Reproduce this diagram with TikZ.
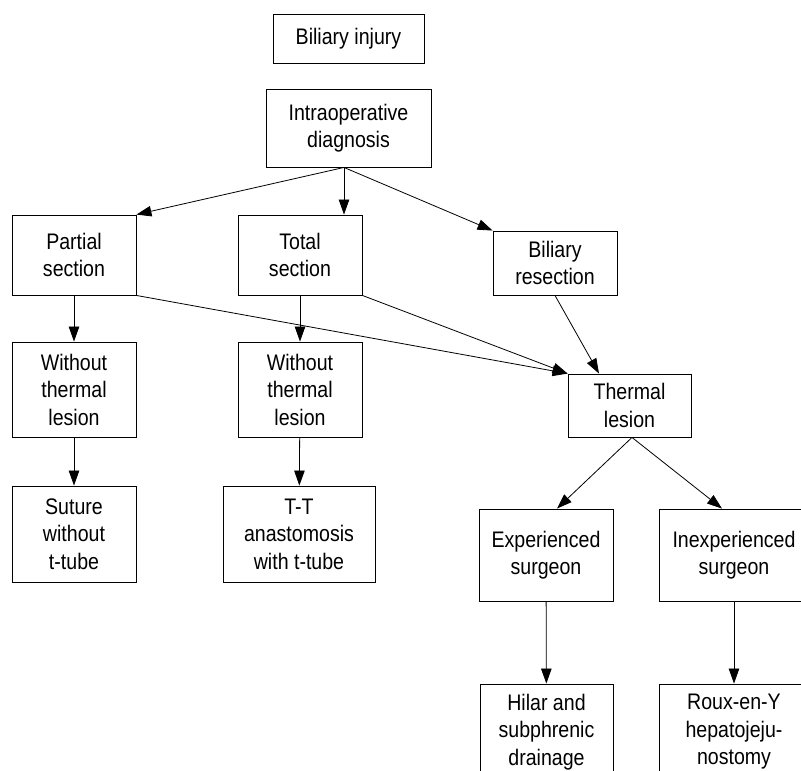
\documentclass[tikz,border=0pt]{standalone}
\usepackage{fontspec}
\setmainfont{Liberation Sans}[FakeStretch=0.87]
\usetikzlibrary{arrows.meta}

\begin{document}
\begin{tikzpicture}[x=1pt, y=-1pt,
		box/.style={draw, line width=0.9pt, align=center, inner sep=0pt,
			font=\fontsize{22.5}{27.5}\selectfont},
		link/.style={-{Triangle[length=15pt,width=10.5pt]}, line width=0.8pt}]
		\useasboundingbox (0,0) rectangle (801,771);
		\clip (0,0) rectangle (801,771);
		% Top
		\node[box, minimum width=151pt, minimum height=49pt] (Injury) at (348.5,38.5) {Biliary injury} ;
		\node[box, minimum width=165pt, minimum height=78pt] (Diag) at (348.5,128) {Intraoperative\\diagnosis} ;
		% Kind of injury
		\node[box, minimum width=124pt, minimum height=80pt] (Partial) at (74,255) {Partial\\section} ;
		\node[box, minimum width=124pt, minimum height=80pt] (Total) at (300,255) {Total\\section} ;
		\node[box, minimum width=124pt, minimum height=64pt] (Resect) at (555,263) {Biliary\\resection} ;
		% Lesion
		\node[box, minimum width=124pt, minimum height=95pt] (NoThermA) at (74,389.5) {Without\\thermal\\lesion} ;
		\node[box, minimum width=124pt, minimum height=95pt] (NoThermB) at (300,389.5) {Without\\thermal\\lesion} ;
		\node[box, minimum width=123pt, minimum height=63pt] (Thermal) at (629.5,405.5) {Thermal\\lesion} ;
		% Repair
		\node[box, minimum width=124pt, minimum height=96pt] (Suture) at (74,534) {Suture\\without\\t-tube} ;
		\node[box, minimum width=152pt, minimum height=96pt] (Anast) at (299,534) {T-T\\anastomosis\\with t-tube} ;
		\node[box, minimum width=134pt, minimum height=92pt] (Expert) at (546,555) {Experienced\\surgeon} ;
		\node[box, minimum width=150pt, minimum height=92pt] (Novice) at (734,555) {Inexperienced\\surgeon} ;
		\node[box, minimum width=133pt, minimum height=96pt] (Drain) at (546.5,732) {Hilar and\\subphrenic\\drainage} ;
		\node[box, minimum width=150pt, minimum height=96pt] (Roux) at (734,732) {Roux-en-Y\\hepatojeju-\\nostomy} ;
		% Fork point under the diagnosis box
		\coordinate (Fork) at ([xshift=-4.5pt]Diag.south) ;
		\draw[link] (Fork) -- (Partial.north east) ;
		\draw[link] (Fork) -- (Fork |- Total.north) ;
		\draw[link] (Fork) -- (Resect.north west) ;
		\draw[link] (Partial) -- (NoThermA) ;
		\draw[link] (Total) -- (NoThermB) ;
		\draw[link] (Partial.south east) -- (Thermal.north west) ;
		\draw[link] (Total.south east) -- (Thermal.north west) ;
		\draw[link] (Resect.south) -- ([xshift=-30.5pt]Thermal.north) ;
		\draw[link] (NoThermA) -- (Suture) ;
		\draw[link] (NoThermB) -- (Anast) ;
		\draw[link] ([xshift=2.5pt]Thermal.south) -- ([xshift=11pt]Expert.north) ;
		\draw[link] ([xshift=2.5pt]Thermal.south) -- ([xshift=-12pt]Novice.north) ;
		\draw[link] (Expert) -- (Drain) ;
		\draw[link] (Novice) -- (Roux) ;
	\end{tikzpicture}
\end{document}
